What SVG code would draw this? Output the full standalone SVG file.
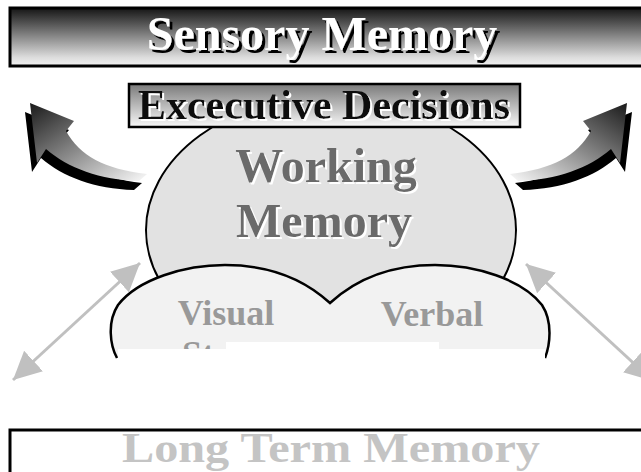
<svg xmlns="http://www.w3.org/2000/svg" xmlns:xlink="http://www.w3.org/1999/xlink" width="641" height="472" viewBox="0 0 641 472">
<style>
.t{font-family:"Liberation Serif","Times New Roman",serif;font-weight:bold;text-anchor:middle}
.gline{stroke:#c0c0c0;stroke-width:3;fill:none}
</style>
<defs>
<linearGradient id="barG" x1="0" y1="0" x2="0" y2="1">
<stop offset="0" stop-color="#151515"/>
<stop offset="0.85" stop-color="#dcdcdc"/>
<stop offset="1" stop-color="#f2f2f2"/>
</linearGradient>
<linearGradient id="boxG" x1="0" y1="0" x2="0" y2="1">
<stop offset="0" stop-color="#7a7a7a"/>
<stop offset="1" stop-color="#f8f8f8"/>
</linearGradient>
<linearGradient id="arrG" x1="0" y1="0" x2="1" y2="1">
<stop offset="0" stop-color="#1a1a1a"/>
<stop offset="0.5" stop-color="#8a8a8a"/>
<stop offset="1" stop-color="#fafafa"/>
</linearGradient>
<filter id="shB" x="-5%" y="-20%" width="110%" height="150%">
<feOffset in="SourceAlpha" dx="3" dy="3" result="o"/>
<feMerge><feMergeNode in="o"/><feMergeNode in="SourceGraphic"/></feMerge>
</filter>
<filter id="shW" x="-5%" y="-20%" width="110%" height="150%">
<feOffset in="SourceAlpha" dx="2" dy="2" result="o"/>
<feFlood flood-color="#ffffff" result="f"/>
<feComposite in="f" in2="o" operator="in" result="w"/>
<feMerge><feMergeNode in="w"/><feMergeNode in="SourceGraphic"/></feMerge>
</filter>
<path id="carr" d="M30,103 L74,121 L66,131 C80,156 104,169 147,174 L139,181 C100,180 68,168 46,149 L37,163 Z"/>
<marker id="ah" viewBox="0 0 10 10" refX="10" refY="5" markerWidth="28" markerHeight="28" markerUnits="userSpaceOnUse" orient="auto-start-reverse">
<path d="M0,0 L10,5 L0,10 Z" fill="#c0c0c0"/>
</marker>
</defs>

<g id="sensory-memory">
<rect x="10" y="8" width="640" height="58" fill="url(#barG)" stroke="#000" stroke-width="3"/>
<text class="t" x="322" y="50" font-size="48" fill="#fff" filter="url(#shB)">Sensory Memory</text>
</g>

<g id="working-memory">
<ellipse cx="331" cy="230" rx="185" ry="134" fill="#e2e2e2" stroke="#000" stroke-width="2"/>
<text class="t" x="326" y="182" font-size="48" fill="#6b6b6b" filter="url(#shW)">Working</text>
<text class="t" x="324" y="237" font-size="48" fill="#6b6b6b" filter="url(#shW)">Memory</text>
</g>

<g id="executive-decisions">
<rect x="129" y="84" width="391" height="43" fill="url(#boxG)" stroke="#000" stroke-width="2.5"/>
<text class="t" x="324" y="119" font-size="42" fill="#111" filter="url(#shW)">Excecutive Decisions</text>
</g>

<g id="arrow-left">
<use xlink:href="#carr" transform="translate(-5,9)" fill="#000"/>
<use xlink:href="#carr" fill="url(#arrG)"/>
</g>
<g id="arrow-right" transform="translate(657,0) scale(-1,1)">
<use xlink:href="#carr" transform="translate(-5,9)" fill="#000"/>
<use xlink:href="#carr" fill="url(#arrG)"/>
</g>

<g id="stores">
<path d="M117,358 C110,345 107,322 118,305 C138,279 185,265 225,265 C270,265 305,280 330,303 C355,280 390,265 435,265 C475,265 522,279 542,305 C553,322 550,345 545,358 Z" fill="#f2f2f2" stroke="none"/>
<path d="M117,358 C110,345 107,322 118,305 C138,279 185,265 225,265 C270,265 305,280 330,303 C355,280 390,265 435,265 C475,265 522,279 542,305 C553,322 550,345 545,358" fill="none" stroke="#000" stroke-width="2.5"/>
<text class="t" x="226" y="325" font-size="36" fill="#999">Visual</text>
<text class="t" x="432" y="326" font-size="36" fill="#999">Verbal</text>
<text x="182" y="366" font-size="36" fill="#999" style="font-family:'Liberation Serif','Times New Roman',serif;font-weight:bold">St</text>
<rect x="226" y="342" width="213" height="20" fill="#fff"/>
<rect x="118" y="349" width="427" height="50" fill="#fff"/>
</g>

<g id="long-term-memory">
<rect x="10" y="430" width="640" height="60" fill="#fff" stroke="#000" stroke-width="3"/>
<text class="t" x="331" y="462" font-size="43" textLength="418" lengthAdjust="spacingAndGlyphs" fill="#c4c4c4">Long Term Memory</text>
</g>

<g id="connectors">
<line class="gline" x1="13" y1="380" x2="140" y2="263" marker-start="url(#ah)" marker-end="url(#ah)"/>
<line class="gline" x1="526" y1="264" x2="653" y2="381" marker-start="url(#ah)" marker-end="url(#ah)"/>
</g>
</svg>
